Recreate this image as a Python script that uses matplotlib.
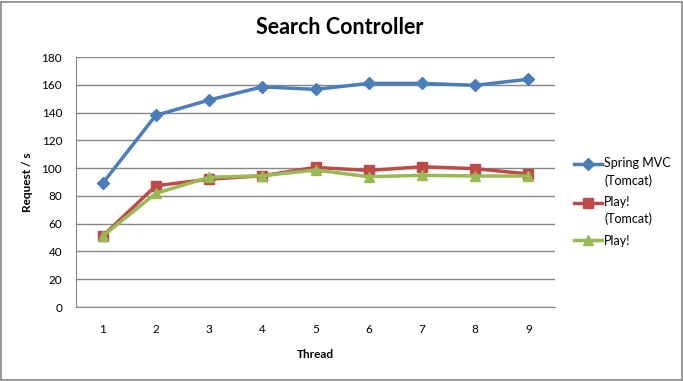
import numpy as np
import matplotlib.pyplot as plt
from matplotlib.patches import Rectangle
from matplotlib.legend_handler import HandlerLine2D

plt.rcParams['font.family'] = ['Lato', 'DejaVu Sans']

threads = [1, 2, 3, 4, 5, 6, 7, 8, 9]
spring_mvc = [89, 138, 149, 158.5, 156.7, 161, 161, 159.6, 164]
play_tomcat = [51, 87.3, 92, 94.5, 100.5, 98.3, 101, 99.6, 95.8]
play = [51, 81.8, 93.4, 94.5, 98.6, 93.8, 94.8, 94.3, 94.3]
labels = ['Spring MVC\n(Tomcat)', 'Play!\n(Tomcat)', 'Play!']


# legend handle sits next to the first line of a two-line label
class TopHandler(HandlerLine2D):
    def create_artists(self, legend, orig_handle, xdescent, ydescent,
                       width, height, fontsize, trans):
        arts = super().create_artists(legend, orig_handle, xdescent, ydescent,
                                      width, height, fontsize, trans)
        for a in arts:
            a.set_ydata(np.asarray(a.get_ydata()) + 0.68 * fontsize)
        return arts


fig = plt.figure(figsize=(6.83, 3.81), dpi=100)
ax = fig.add_axes([76 / 683, 74 / 381, 479 / 683, 250 / 381])

l1, = ax.plot(threads, spring_mvc, color='#4a7ebb', lw=2.5, marker='D', ms=6, label=labels[0])
l2, = ax.plot(threads, play_tomcat, color='#be4b48', lw=2.5, marker='s', ms=7, label=labels[1])
l3, = ax.plot(threads, play, color='#98b954', lw=2.5, marker='^', ms=7, label=labels[2])

ax.set_xlim(0.5, 9.5)
ax.set_ylim(0, 180)
ax.set_yticks(range(0, 181, 20))
ax.set_xticks(threads)
ax.grid(axis='y', color='#868686', lw=1)
ax.set_axisbelow(True)
for s in ['top', 'right']:
    ax.spines[s].set_visible(False)
for s in ['left', 'bottom']:
    ax.spines[s].set_color('#868686')
ax.tick_params(length=0, labelsize=8.5)
ax.tick_params(axis='y', pad=10)
ax.tick_params(axis='x', pad=12)

ax.set_xlabel('Thread', fontsize=8.5, fontweight='bold', labelpad=10)
ax.set_ylabel('Request / s', fontsize=8.5, fontweight='bold', labelpad=6)
fig.text(340 / 683, 1 - 27 / 381, 'Search Controller', ha='center', va='center',
         fontsize=15.5, fontweight='bold')

leg = ax.legend(loc='center left', bbox_to_anchor=(1.04, 0.42), frameon=False,
                fontsize=9, handlelength=2.2, labelspacing=0.75, handletextpad=0.2,
                borderpad=0, borderaxespad=0,
                handler_map={l1: TopHandler(), l2: TopHandler()})
for t in leg.get_texts():
    t.set_linespacing(1.45)

fig.patches.append(Rectangle((0.5 / 683, 1.5 / 381), 681 / 683, 378 / 381,
                             transform=fig.transFigure, fill=False,
                             edgecolor='#868686', lw=1.2))

fig.savefig('out.png', dpi=100)
